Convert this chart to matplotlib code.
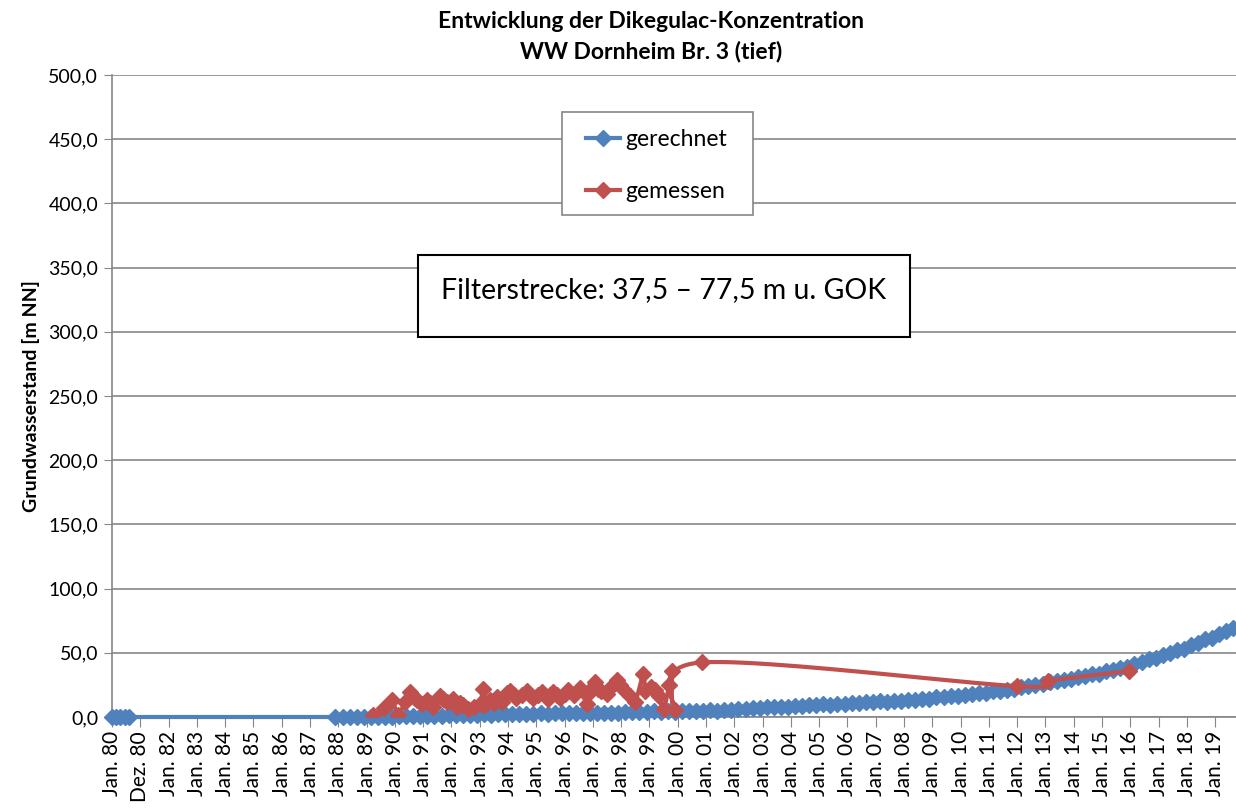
import numpy as np
import matplotlib.pyplot as plt
from matplotlib.lines import Line2D
from matplotlib.patches import Rectangle
from matplotlib.ticker import FuncFormatter

plt.rcParams['font.family'] = ['Lato', 'DejaVu Sans']

# category labels of the x axis (one tick per position 0..39)
x_labels = ['Jan. 80', 'Dez. 80'] + ['Jan. %02d' % (y % 100) for y in range(1982, 2020)]

# gerechnet - first short block in 1980 (axis positions)
blue_early_pos = [0.0, 0.15, 0.3, 0.45, 0.6]
blue_early_val = [0.0, 0.0, 0.0, 0.0, 0.0]

# gerechnet - from late 1987, four values per year
blue_start_year = 1987.9
blue_val = [
    0.0, 0.0, 0.0, 0.0,
    0.0, 0.2, 0.0, 0.1,
    0.3, 0.6, 0.4, 0.6,
    0.8, 1.1, 0.9, 1.1,
    1.2, 1.5, 1.3, 1.5,
    1.6, 2.0, 1.8, 2.0,
    2.1, 2.4, 2.2, 2.4,
    2.5, 2.8, 2.6, 2.8,
    2.9, 3.2, 3.0, 3.2,
    3.2, 3.5, 3.3, 3.5,
    3.5, 3.9, 3.7, 3.9,
    3.9, 4.3, 4.0, 4.3,
    4.1, 4.6, 4.3, 4.7,
    4.6, 5.4, 5.0, 5.6,
    5.8, 6.6, 6.3, 6.9,
    7.0, 7.8, 7.5, 8.0,
    8.1, 8.9, 8.6, 9.1,
    9.2, 10.0, 9.7, 10.2,
    10.2, 11.1, 10.8, 11.3,
    11.3, 12.2, 12.0, 12.6,
    12.6, 13.6, 13.5, 14.0,
    14.2, 15.3, 15.3, 16.0,
    16.2, 17.4, 17.6, 18.4,
    18.6, 20.0, 20.4, 21.4,
    22.0, 23.4, 24.0, 25.0,
    25.8, 27.4, 28.0, 29.2,
    29.6, 31.2, 32.0, 33.2,
    33.6, 35.6, 36.4, 38.2,
    39.0, 41.6, 42.8, 45.0,
    45.6, 48.4, 49.8, 52.4,
    53.0, 56.2, 57.8, 60.6,
    61.6, 64.8, 66.6, 69.6,
    70.8,
]

# gemessen (measured), decimal years
red_year = [
    1989.24, 1989.60, 1989.89, 1990.12, 1990.35, 1990.54, 1990.70, 1990.80,
    1990.95, 1991.13, 1991.25, 1991.35, 1991.60, 1991.72, 1991.83, 1992.05,
    1992.20, 1992.30, 1992.40, 1992.60, 1992.80, 1993.00, 1993.13, 1993.14,
    1993.25, 1993.37, 1993.50, 1993.60, 1993.80, 1993.96, 1994.07, 1994.20,
    1994.30, 1994.50, 1994.66, 1994.78, 1994.90, 1995.05, 1995.19, 1995.40,
    1995.50, 1995.60, 1995.72, 1995.85, 1996.00, 1996.13, 1996.35, 1996.55,
    1996.78, 1996.80, 1996.95, 1997.08, 1997.20, 1997.30, 1997.49, 1997.65,
    1997.84, 1997.95, 1998.05, 1998.30, 1998.50, 1998.79, 1998.85, 1999.05,
    1999.20, 1999.35, 1999.50, 1999.70, 1999.79, 1999.90, 2000.85, 2012.00,
    2013.10, 2015.96,
]
red_val = [
    1.6, 7.0, 13.0, 1.6, 12.0, 19.5, 15.0, 13.0,
    10.0, 13.0, 11.0, 8.0, 16.5, 14.0, 12.0, 14.0,
    8.0, 11.0, 9.0, 6.0, 8.0, 10.0, 22.0, 9.0,
    11.0, 13.0, 11.0, 15.5, 12.0, 18.4, 20.5, 17.0,
    15.0, 17.0, 20.5, 17.0, 15.0, 17.0, 19.5, 14.0,
    17.0, 19.5, 17.0, 15.0, 18.0, 21.0, 17.0, 22.5,
    10.0, 17.0, 22.0, 27.0, 22.0, 20.0, 18.0, 23.0,
    28.5, 25.0, 22.0, 16.0, 12.0, 33.5, 20.0, 23.0,
    21.0, 16.0, 6.0, 25.0, 36.0, 5.5, 42.5, 24.0,
    28.3, 35.8,
]

blue_c = '#4F81BD'
red_c = '#C0504D'
grid_c = '#868686'
ms = 8
lw = 3.0


def smooth(xs, ys, n=24):
    # catmull-rom curve through the points (like the smoothed Excel line)
    p = np.column_stack([xs, ys]).astype(float)
    p = np.vstack([p[0], p, p[-1]])
    out = []
    for i in range(1, len(p) - 2):
        p0, p1, p2, p3 = p[i - 1], p[i], p[i + 1], p[i + 2]
        c1 = p1 + (p2 - p0) / 6.0
        c2 = p2 - (p3 - p1) / 6.0
        t = np.linspace(0, 1, n)[:, None]
        seg = ((1 - t) ** 3) * p1 + 3 * ((1 - t) ** 2) * t * c1 + 3 * (1 - t) * t ** 2 * c2 + t ** 3 * p2
        out.append(seg)
    seg = np.vstack(out)
    return seg[:, 0], seg[:, 1]


fig = plt.figure(figsize=(12.36, 8.1), dpi=100)
ax = fig.add_axes([112 / 1236, 1 - 717 / 810, 1 - 112 / 1236, (717 - 75) / 810])

blue_pos = np.arange(len(blue_val)) / 4.0 + (blue_start_year - 1980)
bx = np.concatenate([blue_early_pos, blue_pos])
by = np.concatenate([blue_early_val, blue_val])
ax.plot(bx, by, color=blue_c, lw=lw, marker='D', ms=ms, mec=blue_c, zorder=3, clip_on=False)

red_pos = np.array(red_year) - 1980
sx, sy = smooth(red_pos, red_val)
ax.plot(sx, sy, color=red_c, lw=lw, zorder=4)
ax.plot(red_pos, red_val, ls='none', marker='D', ms=ms, color=red_c, zorder=4)

ax.set_xlim(0, 39.74)
ax.set_ylim(0, 500)
ax.set_xticks(range(len(x_labels)))
ax.set_xticklabels(x_labels, rotation=90, fontsize=15)
ax.set_yticks(np.arange(0, 501, 50))
ax.yaxis.set_major_formatter(FuncFormatter(lambda v, p: ('%.1f' % v).replace('.', ',')))
ax.tick_params(axis='y', labelsize=14, length=6, color=grid_c, pad=4)
ax.tick_params(axis='x', length=7, color=grid_c, pad=3)
ax.grid(axis='y', color=grid_c, lw=1.2)
ax.set_axisbelow(True)
for s in ['top', 'right']:
    ax.spines[s].set_visible(False)
for s in ['left', 'bottom']:
    ax.spines[s].set_color(grid_c)
    ax.spines[s].set_linewidth(1.2)

ax.set_ylabel('Grundwasserstand [m NN]', fontsize=14, fontweight='bold', labelpad=6)

fig.text(651 / 1236, 1 - 22 / 810, 'Entwicklung der Dikegulac-Konzentration',
         ha='center', va='center', fontsize=16.5, fontweight='bold')
fig.text(651 / 1236, 1 - 51 / 810, 'WW Dornheim Br. 3 (tief)',
         ha='center', va='center', fontsize=16.5, fontweight='bold')

# legend frame drawn separately so the padding matches
leg_frame = Rectangle((562 / 1236, 1 - 215 / 810), (753 - 562) / 1236, (215 - 112) / 810,
                      transform=fig.transFigure, facecolor='white', edgecolor=grid_c, lw=1.2, zorder=5)
ax.add_patch(leg_frame)
handles = [Line2D([], [], color=blue_c, lw=lw, marker='D', ms=ms),
           Line2D([], [], color=red_c, lw=lw, marker='D', ms=ms)]
leg = ax.legend(handles, ['gerechnet', 'gemessen'], loc='upper left',
                bbox_to_anchor=(586 / 1236, 1 - 129 / 810), bbox_transform=fig.transFigure,
                fontsize=16.5, frameon=False,
                handlelength=1.5, handletextpad=0.22, labelspacing=1.35, borderpad=0,
                borderaxespad=0)
leg.set_zorder(6)

box = Rectangle((418 / 1236, 1 - 337 / 810), (910 - 418) / 1236, (337 - 255) / 810,
                transform=fig.transFigure, facecolor='white', edgecolor='black', lw=1.5, zorder=5)
ax.add_patch(box)
fig.text(664 / 1236, 1 - 290 / 810, 'Filterstrecke: 37,5 \u2013 77,5 m u. GOK',
         ha='center', va='center', fontsize=20.5, zorder=6)

fig.savefig('out.png', dpi=100)
